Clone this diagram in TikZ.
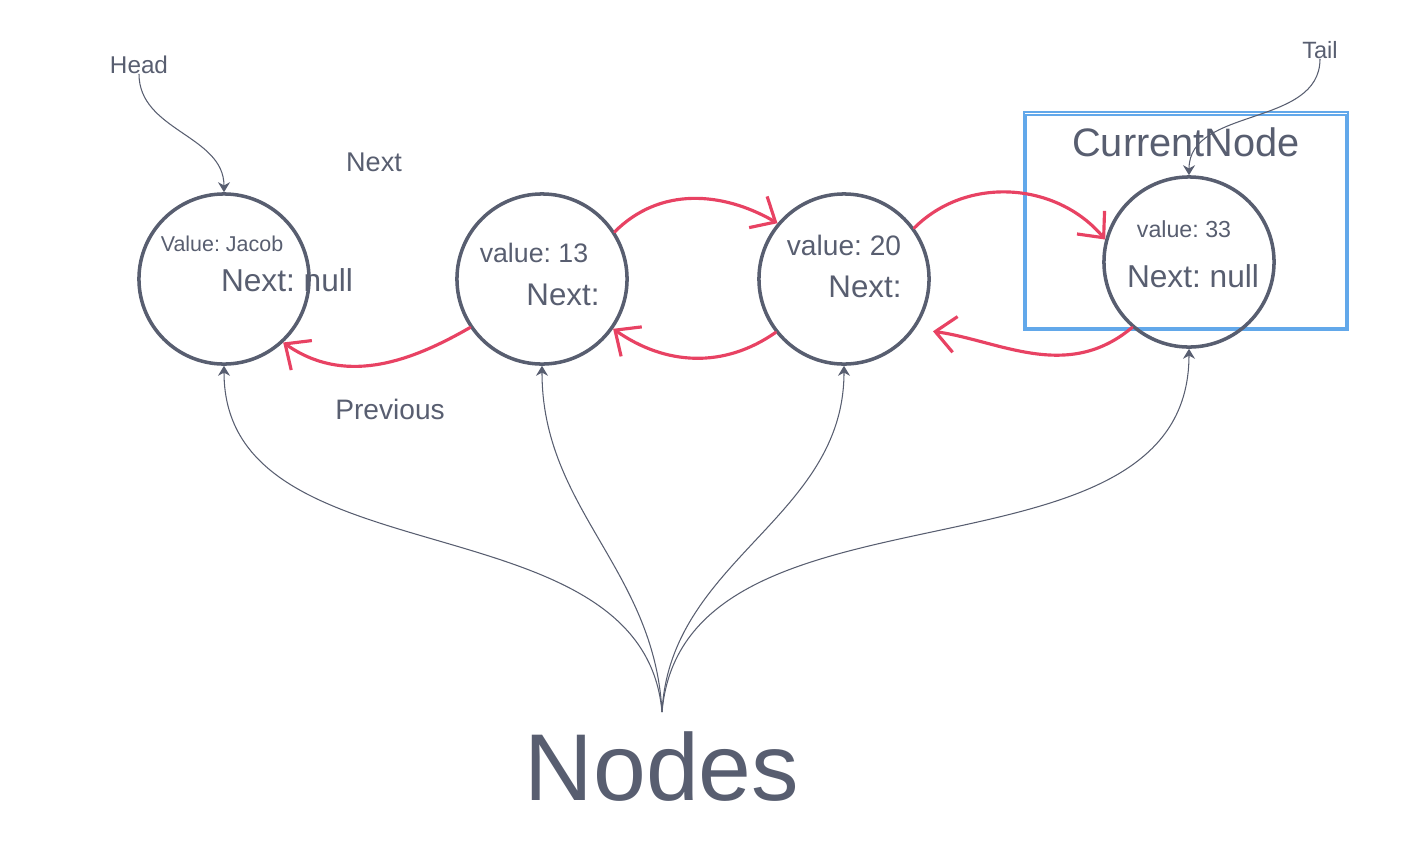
\documentclass[tikz,border=0pt]{standalone}
\usepackage{fontspec}
\setmainfont{Liberation Sans}
\usetikzlibrary{arrows.meta}
\definecolor{inkgrey}{RGB}{88,94,112}
\definecolor{linkred}{RGB}{232,66,99}
\definecolor{boxblue}{RGB}{98,168,234}
\tikzset{
  listnode/.style={circle, draw=inkgrey, line width=1pt, minimum size=1.7cm, inner sep=0pt},
  lbl/.style={text=inkgrey, inner sep=0pt, anchor=base},
  link/.style={draw=linkred, line width=0.9pt, line cap=round, -{Straight Barb[length=2mm,width=3.6mm]}},
  pointer/.style={draw=inkgrey, line width=0.3pt, -{Stealth[length=1mm,width=1.2mm]}},
}
\newcommand{\fs}[1]{\fontsize{#1}{#1}\selectfont}
\frenchspacing

\begin{document}
\begin{tikzpicture}[x=0.01cm, y=-0.01cm]
    \useasboundingbox (0,0) rectangle (1424,842);
    % current node box
    \draw[boxblue, line width=0.7pt] (1024,112) rectangle (1348,330);
    \draw[boxblue, line width=0.6pt] (1026,115) rectangle (1346,328);
    \node[lbl] (current) at (1186,156) {\fs{11.3}CurrentNode};

    % list nodes
    \node[listnode] (jacob) at (224,279) {};
    \node[listnode] (v13) at (542,279) {};
    \node[listnode] (v20) at (844,279) {};
    \node[listnode] (v33) at (1189,262) {};

    \node[lbl] (jacobval) at (222,251) {\fs{6.1}Value: Jacob};
    \node[lbl] (jacobnext) at (287,291) {\fs{9}Next: null};
    \node[lbl] (val13) at (534,262) {\fs{7.6}value: 13};
    \node[lbl] (next13) at (563,305) {\fs{8.9}Next:};
    \node[lbl] (val20) at (844,255) {\fs{8}value: 20};
    \node[lbl] (next20) at (865,297) {\fs{8.9}Next:};
    \node[lbl] (val33) at (1184,237) {\fs{6.6}value: 33};
    \node[lbl] (next33) at (1193,287) {\fs{9}Next: null};

    % labels
    \node[lbl] (nextlbl) at (374,171) {\fs{7.7}Next};
    \node[lbl] (prevlbl) at (390,419) {\fs{8}Previous};
    \node[lbl] (head) at (139,73) {\fs{6.9}Head};
    \node[lbl] (tail) at (1320,58) {\fs{6.7}Tail};
    \node[lbl] (nodes) at (662,800) {\fs{27}Nodes};
    \coordinate (fan) at (662,712);

    % next links
    \draw[link] (v13.33) to[out=45, in=150] (v20.140);
    \draw[link] (v20.36) to[out=45, in=130] (v33.165);
    % previous links
    \draw[link, shorten >=0.18cm] (v33.229) to[out=220, in=-8] (v20.-35);
    \draw[link] (v20.218) to[out=215, in=-35] (v13.-35);
    \draw[link] (v13.214) to[out=210, in=-35] (jacob.-47);

    % head and tail
    \draw[pointer] (head.south) to[out=-90, in=90] (jacob.north);
    \draw[pointer] (tail.south) to[out=-90, in=90] (v33.north);

    % fan to the nodes
    \draw[pointer] (fan) to[out=95, in=-90] (jacob.south);
    \draw[pointer] (fan) to[out=93, in=-90] (v13.south);
    \draw[pointer] (fan) to[out=87, in=-90] (v20.south);
    \draw[pointer] (fan) to[out=85, in=-90] (v33.south);
\end{tikzpicture}
\end{document}
